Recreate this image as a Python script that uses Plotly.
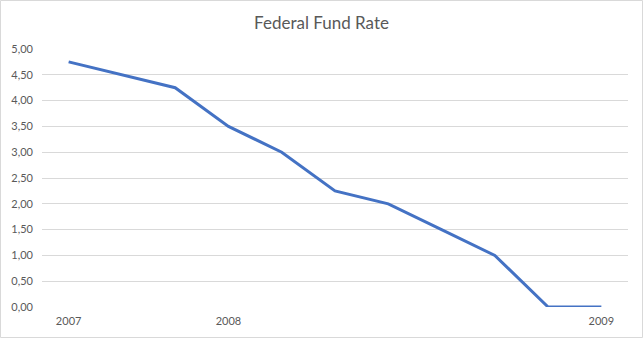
import plotly.graph_objects as go

# FOMC decision dates and target rate (%)
dates = ["2007-09-18", "2007-10-31", "2007-12-11", "2008-01-22", "2008-01-30",
         "2008-03-18", "2008-04-30", "2008-10-08", "2008-10-29", "2008-12-16",
         "2009-01-28"]
rates = [4.75, 4.50, 4.25, 3.50, 3.00, 2.25, 2.00, 1.50, 1.00, 0.00, 0.00]
year_ticks = [dates[0], dates[3], dates[10]]
year_labels = ["2007", "2008", "2009"]

W, H = 643, 338
ml, mr, mt, mb = 42, 15, 49, 31

fig = go.Figure(go.Scatter(
    x=dates, y=rates, mode="lines",
    line=dict(color="#4472C4", width=3),
    hoverinfo="x+y",
))

pw = W - ml - mr
ph = H - mt - mb
fig.add_shape(type="rect", xref="paper", yref="paper",
              x0=(-ml + 0.5) / pw, x1=(W - ml - 0.5) / pw,
              y0=(-mb + 0.5) / ph, y1=(H - mb - 0.5) / ph,
              line=dict(color="#D9D9D9", width=1), layer="below")

fig.update_layout(
    width=W, height=H,
    margin=dict(l=ml, r=mr, t=mt, b=mb),
    paper_bgcolor="white", plot_bgcolor="white",
    separators=",.",
    showlegend=False,
    font=dict(family="Lato, Open Sans, sans-serif", color="#595959", size=11),
    title=dict(text="Federal Fund Rate", x=0.5, xanchor="center",
               y=1 - 23 / H, yanchor="middle",
               font=dict(size=17, color="#595959", family="Lato, Open Sans, sans-serif")),
    xaxis=dict(type="category", categoryorder="array", categoryarray=dates,
               range=[-0.5, len(dates) - 0.5],
               tickvals=year_ticks, ticktext=year_labels,
               showgrid=False, zeroline=False, showline=False,
               ticks="", ticklen=0, ticklabelstandoff=6,
               tickfont=dict(size=11, color="#595959")),
    yaxis=dict(range=[0, 5], dtick=0.5, tickformat=".2f",
               showgrid=True, gridcolor="#D9D9D9", gridwidth=1,
               zeroline=False, showline=False, ticks="",
               ticklabelstandoff=8,
               tickfont=dict(size=11, color="#595959")),
)

fig.write_html("out.html")
